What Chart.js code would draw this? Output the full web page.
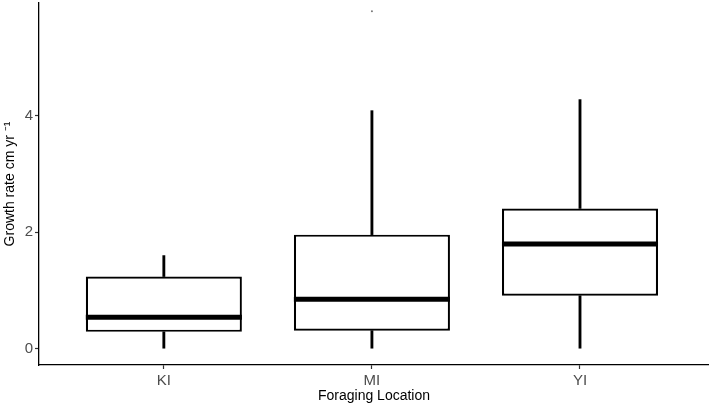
<!DOCTYPE html>
<html>
<head>
<meta charset="utf-8">
<script src="https://cdn.jsdelivr.net/npm/chart.js@4/dist/chart.umd.min.js"></script>
<style>
  body { margin: 0; background: #fff; }
</style>
</head>
<body>
<canvas id="chart" width="709" height="407"></canvas>
<script>
// foraging locations and box statistics
var locations = ["KI", "MI", "YI"];
var whiskerLow = [0, 0, 0];
var q1 = [0.29, 0.31, 0.91];
var medians = [0.54, 0.85, 1.80];
var q3 = [1.24, 1.96, 2.41];
var whiskerHigh = [1.60, 4.09, 4.28];
var outliers = [{ x: 1, y: 5.80 }];
var yTicks = [0, 2, 4];

var idx = locations.map((name, i) => i);

// ggplot-ish median bar drawn across each box
var medianLines = {
  id: "medianLines",
  afterDatasetsDraw: function(chart) {
    var ctx = chart.ctx;
    var boxes = chart.getDatasetMeta(0).data;
    var y = chart.scales.y;
    ctx.save();
    ctx.strokeStyle = "#000";
    ctx.lineWidth = 5;
    medians.forEach((m, i) => {
      var b = boxes[i];
      var py = y.getPixelForValue(m);
      ctx.beginPath();
      ctx.moveTo(b.x - b.width / 2, py);
      ctx.lineTo(b.x + b.width / 2, py);
      ctx.stroke();
    });
    ctx.restore();
  }
};

new Chart(document.getElementById("chart"), {
  type: "bar",
  data: {
    datasets: [
      {
        label: "box",
        data: idx.map(i => ({ x: i, y: [q1[i], q3[i]] })),
        backgroundColor: "#fff",
        borderColor: "#000",
        borderWidth: 2.2,
        borderSkipped: false,
        barPercentage: 0.75,
        categoryPercentage: 1,
        grouped: false
      },
      {
        label: "lower whisker",
        data: idx.map(i => ({ x: i, y: [whiskerLow[i], q1[i]] })),
        backgroundColor: "#000",
        borderWidth: 0,
        barThickness: 2.2,
        grouped: false
      },
      {
        label: "upper whisker",
        data: idx.map(i => ({ x: i, y: [q3[i], whiskerHigh[i]] })),
        backgroundColor: "#000",
        borderWidth: 0,
        barThickness: 2.2,
        grouped: false
      },
      {
        type: "line",
        label: "outliers",
        data: outliers,
        showLine: false,
        pointRadius: 1,
        pointBackgroundColor: "#777",
        pointBorderWidth: 0
      }
    ]
  },
  options: {
    responsive: false,
    animation: false,
    layout: { autoPadding: false, padding: { top: 3, right: 0, bottom: 0, left: 0 } },
    plugins: {
      legend: { display: false },
      tooltip: { enabled: false }
    },
    scales: {
      x: {
        type: "linear",
        min: -0.6,
        max: 2.62,
        offset: false,
        afterBuildTicks: s => { s.ticks = idx.map(v => ({ value: v })); },
        afterFit: s => { s.height = 42; s.paddingLeft = 0; s.paddingRight = 0; },
        ticks: {
          padding: 3,
          color: "#4d4d4d",
          font: { family: "Liberation Sans, Arial, sans-serif", size: 15 },
          callback: v => locations[v]
        },
        grid: {
          display: true,
          drawOnChartArea: false,
          offset: false,
          tickLength: 4,
          tickColor: "#333",
          tickWidth: 1.2
        },
        border: { display: true, color: "#000", width: 1.3 },
        title: {
          display: true,
          text: "Foraging Location",
          color: "#000",
          padding: { top: 0, bottom: 2 },
          font: { family: "Liberation Sans, Arial, sans-serif", size: 14 }
        }
      },
      y: {
        min: -0.28,
        max: 5.94,
        afterBuildTicks: s => { s.ticks = yTicks.map(v => ({ value: v })); },
        afterFit: s => { s.width = 39; s.paddingTop = 0; s.paddingBottom = 0; },
        ticks: {
          padding: 2,
          color: "#4d4d4d",
          font: { family: "Liberation Sans, Arial, sans-serif", size: 15 }
        },
        grid: {
          display: true,
          drawOnChartArea: false,
          tickLength: 4,
          tickColor: "#333",
          tickWidth: 1.2
        },
        border: { display: true, color: "#000", width: 1.3 },
        title: {
          display: true,
          text: "Growth rate cm yr \u207B\u00B9",
          color: "#000",
          padding: { top: 2, bottom: 0 },
          font: { family: "Liberation Sans, Arial, sans-serif", size: 14 }
        }
      }
    }
  },
  plugins: [medianLines]
});
</script>
</body>
</html>
